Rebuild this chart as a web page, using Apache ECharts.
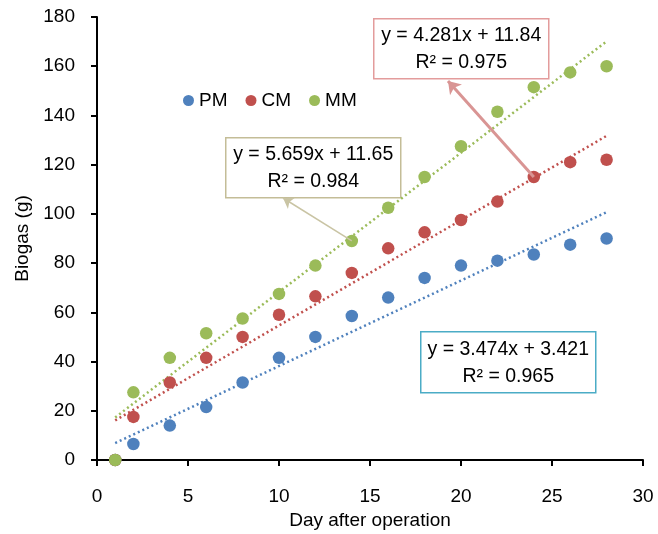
<!DOCTYPE html>
<html>
<head>
<meta charset="utf-8">
<script src="https://cdn.jsdelivr.net/npm/echarts@6/dist/echarts.min.js"></script>
<style>
  html, body { margin: 0; padding: 0; background: #fff; }
  #chart { width: 658px; height: 534px; }
</style>
</head>
<body>
<div id="chart"></div>
<script>
// data
var days = [1, 2, 4, 6, 8, 10, 12, 14, 16, 18, 20, 22, 24, 26, 28];
var pm = [0, 6.5, 14, 21.5, 31.5, 41.5, 50, 58.5, 66, 74, 79, 81, 83.5, 87.5, 90];
var cm = [0, 17.5, 31.5, 41.5, 50, 59, 66.5, 76, 86, 92.5, 97.5, 105, 115, 121, 122];
var mm = [0, 27.5, 41.5, 51.5, 57.5, 67.5, 79, 89, 102.5, 115, 127.5, 141.5, 151.5, 157.5, 160];
// trendline end points (day, biogas)
var pmTrend = [[1, 6.9], [28, 100.7]];
var cmTrend = [[1, 16.1], [28, 131.7]];
var mmTrend = [[1, 17.3], [28, 170.1]];
var xTicks = [0, 30, 5];
var yTicks = [0, 180, 20];

function pairs(vals) {
  return days.map(function (d, i) { return [d, vals[i]]; });
}

var FONT = 'Liberation Sans';
var myChart = echarts.init(document.getElementById('chart'));

function box(x, y, w, h, color, l1, l2) {
  return {
    type: 'group', left: x, top: y,
    children: [
      { type: 'rect', shape: { x: 0, y: 0, width: w, height: h },
        style: { fill: '#fff', stroke: color, lineWidth: 1.5 } },
      { type: 'text', x: w / 2, y: h / 2 - 13,
        style: { text: l1, fill: '#000', font: '19.5px ' + FONT, textAlign: 'center', textVerticalAlign: 'middle' } },
      { type: 'text', x: w / 2, y: h / 2 + 14,
        style: { text: l2, fill: '#000', font: '19.5px ' + FONT, textAlign: 'center', textVerticalAlign: 'middle' } }
    ]
  };
}

function trend(name, pts, color) {
  return {
    name: name + ' trend', type: 'line', data: pts, symbol: 'none', silent: true,
    lineStyle: { color: color, width: 2.5, type: [2, 3] }, z: 1
  };
}

function dots(name, vals, color, arrow) {
  var s = {
    name: name, type: 'scatter', data: pairs(vals), symbolSize: 12.5,
    itemStyle: { color: color, opacity: 1 }, z: 3
  };
  if (arrow) {
    s.markLine = {
      silent: true, symbol: ['none', 'arrow'], symbolSize: arrow.size,
      label: { show: false },
      lineStyle: { color: arrow.color, width: arrow.width, type: 'solid' },
      data: [[{ coord: arrow.from }, { x: arrow.to[0], y: arrow.to[1] }]]
    };
  }
  return s;
}

var option = {
  animation: false,
  grid: { left: 97, right: 15, top: 17, bottom: 74, outerBoundsMode: 'none' },
  legend: {
    data: ['PM', 'CM', 'MM'], left: 178, top: 86, icon: 'circle',
    itemWidth: 11, itemHeight: 11, itemGap: 18,
    textStyle: { fontFamily: FONT, fontSize: 19, color: '#000' }
  },
  xAxis: {
    type: 'value', min: xTicks[0], max: xTicks[1], interval: xTicks[2],
    name: 'Day after operation', nameLocation: 'middle', nameGap: 50,
    nameTextStyle: { fontFamily: FONT, fontSize: 19, color: '#000' },
    axisLine: { show: true, lineStyle: { color: '#000', width: 2 } },
    axisTick: { show: true, length: 6, lineStyle: { color: '#000', width: 2 } },
    axisLabel: { fontFamily: FONT, fontSize: 19, color: '#000', margin: 27 },
    splitLine: { show: false }
  },
  yAxis: {
    type: 'value', min: yTicks[0], max: yTicks[1], interval: yTicks[2],
    name: 'Biogas (g)', nameLocation: 'middle', nameGap: 64, nameRotate: 90,
    nameTextStyle: { fontFamily: FONT, fontSize: 19, color: '#000' },
    axisLine: { show: true, lineStyle: { color: '#000', width: 2 } },
    axisTick: { show: true, length: 6, lineStyle: { color: '#000', width: 2 } },
    axisLabel: { fontFamily: FONT, fontSize: 19, color: '#000', margin: 22 },
    splitLine: { show: false }
  },
  series: [
    trend('PM', pmTrend, '#4f81bd'),
    trend('CM', cmTrend, '#c0504d'),
    trend('MM', mmTrend, '#9bbb59'),
    dots('PM', pm, '#4f81bd'),
    dots('CM', cm, '#c0504d', { from: [24, 115], to: [448, 81], color: '#d99594', width: 3, size: 12 }),
    dots('MM', mm, '#9bbb59', { from: [14, 89], to: [283, 198], color: '#c9c4a4', width: 1.5, size: 10 })
  ],
  graphic: [
    box(373, 18, 175, 60, '#e39c9c', 'y = 4.281x + 11.84', 'R\u00b2 = 0.975'),
    box(225, 137, 175, 60, '#c4bd97', 'y = 5.659x + 11.65', 'R\u00b2 = 0.984'),
    box(420, 331, 175, 61, '#4bacc6', 'y = 3.474x + 3.421', 'R\u00b2 = 0.965')
  ]
};

myChart.setOption(option);
window.addEventListener('resize', function () {
  myChart.resize();
});
</script>
</body>
</html>
